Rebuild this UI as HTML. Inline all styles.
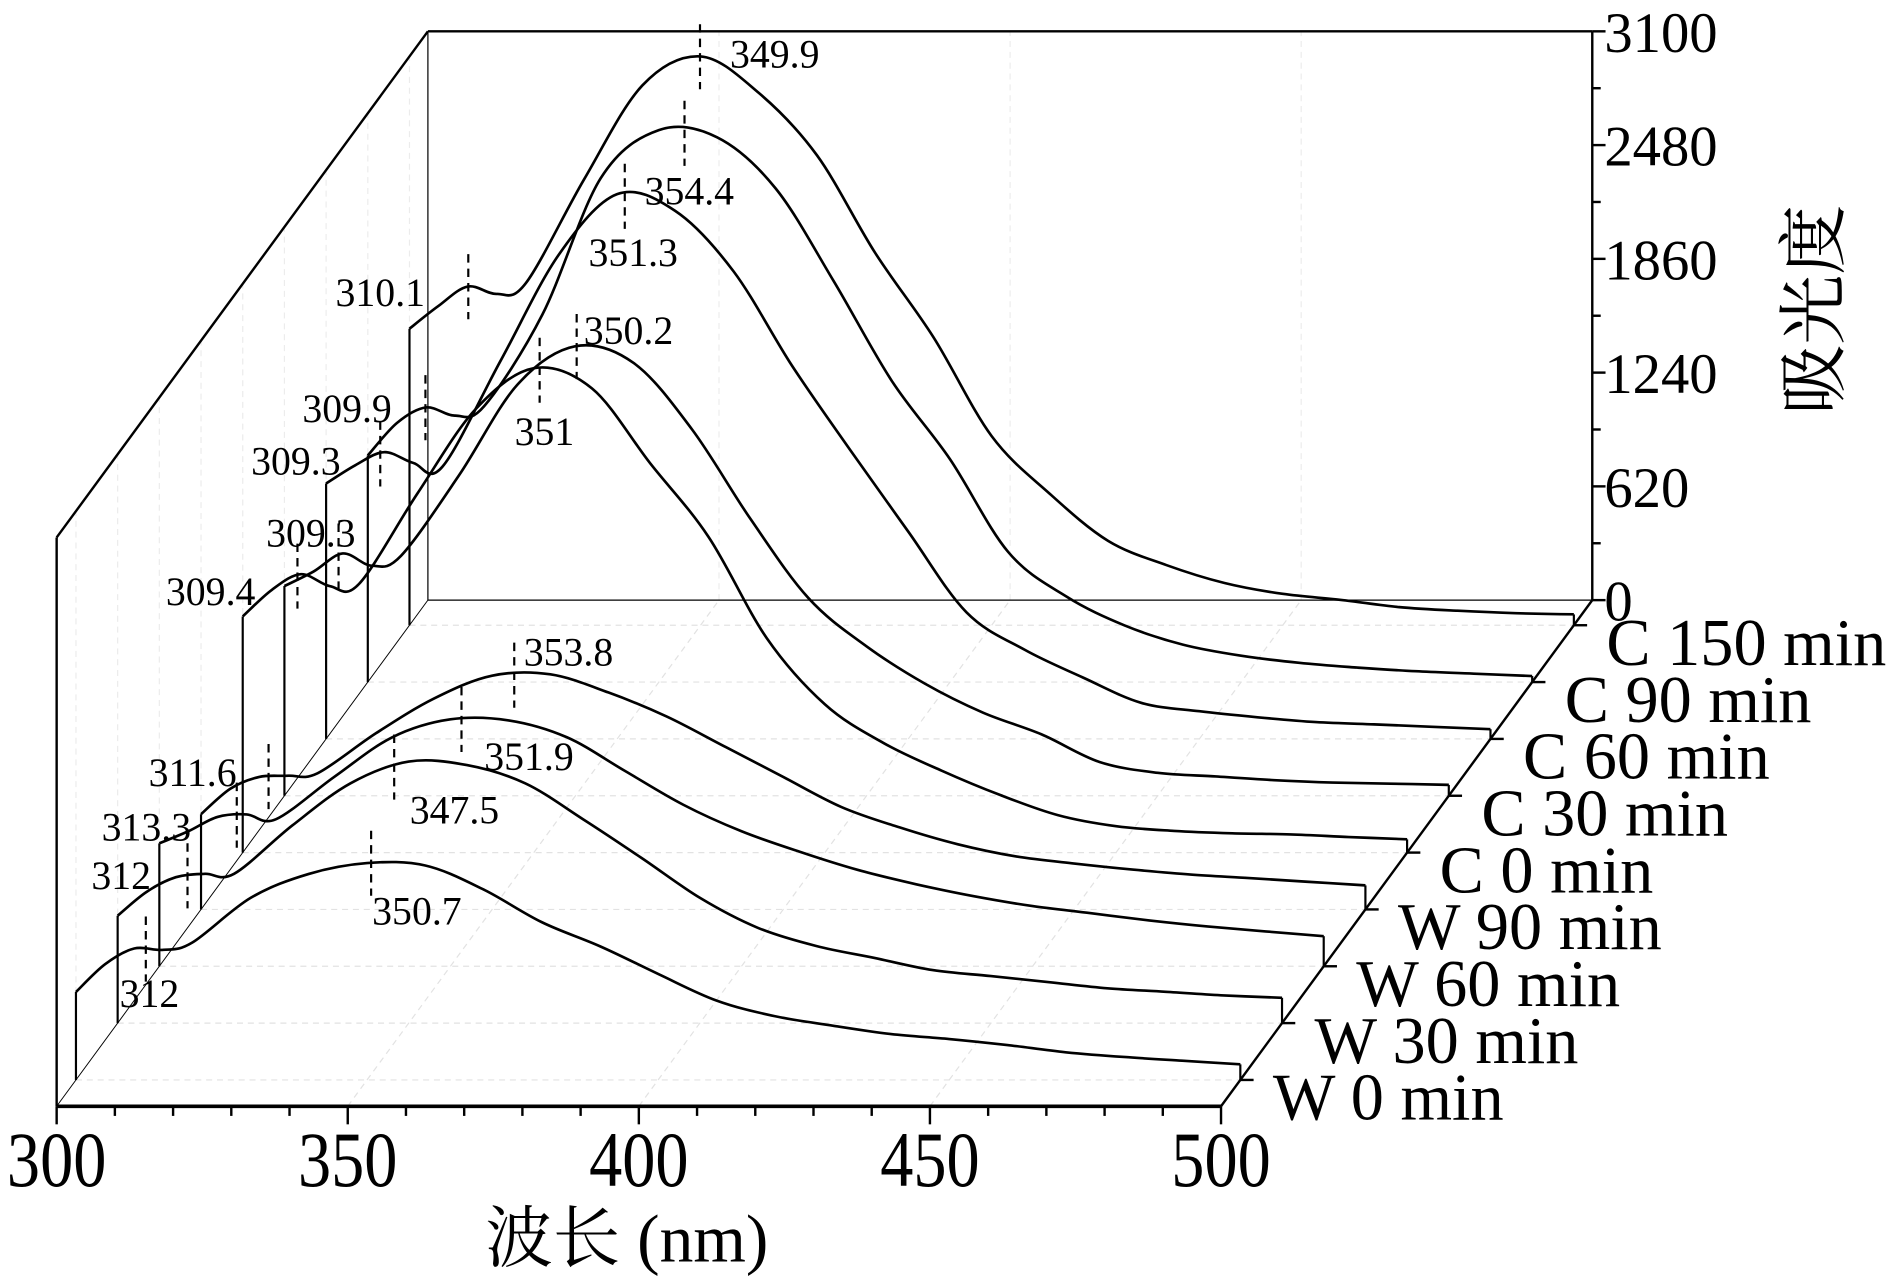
<!DOCTYPE html>
<html><head><meta charset="utf-8"><style>
html,body{margin:0;padding:0;background:#fff;}
svg{display:block;}
text{font-family:"Liberation Serif","Noto Serif CJK SC","Noto Sans CJK SC",serif;fill:#000;}
</style></head><body>
<svg id="chart" xmlns="http://www.w3.org/2000/svg" width="1890" height="1281" viewBox="0 0 1568 1063" preserveAspectRatio="none">
<g id="grid"></g>
<g id="frame"></g>
<g id="series"></g>
<g id="annot"></g>
<g id="labels"></g>
</svg>
<script>
const wavelengths=[300,305,310,315,320,330,340,350,360,370,380,390,400,410,420,430,440,450,460,470,480,490,500];
const seriesNames=['W 0 min','W 30 min','W 60 min','W 90 min','C 0 min','C 30 min','C 60 min','C 90 min','C 150 min'];
const sW0=[479,631,716,709,749,992,1123,1182,1169,1038,860,729,578,433,348,296,250,223,190,151,125,105,85];
const sW30=[585,716,795,814,814,1077,1307,1425,1406,1307,1110,900,683,519,420,355,289,256,223,190,171,151,138];
const sW60=[670,736,814,828,801,1031,1248,1346,1340,1248,1064,880,736,624,525,447,381,328,289,250,217,190,164];
const sW90=[519,657,722,729,742,959,1149,1274,1281,1182,1051,887,722,558,447,355,289,250,217,190,171,151,131];
const sC0=[1287,1432,1517,1452,1465,1957,2417,2640,2529,2121,1721,1169,808,598,447,315,204,144,118,105,99,85,72];
const sC30=[1143,1222,1320,1254,1307,1747,2240,2450,2358,1997,1511,1077,814,611,453,335,184,125,105,85,72,66,59];
const sC60=[1392,1491,1563,1504,1484,2062,2640,2969,2877,2548,2036,1576,1130,690,486,335,197,151,118,92,79,66,53];
const sC90=[1235,1412,1497,1452,1504,2003,2745,3008,2969,2693,2187,1642,1215,709,466,309,204,144,105,79,59,46,33];
const sC150=[1616,1741,1846,1806,1865,2430,2942,3100,2901,2561,2029,1570,1031,716,460,328,230,171,138,99,79,66,59];
const seriesValues=[sW0,sW30,sW60,sW90,sC0,sC30,sC60,sC90,sC150];
const xTicks=[300,350,400,450,500];
const yTicks=[0,620,1240,1860,2480,3100];
const peakSeries=[0,0,1,1,2,2,3,3,4,4,5,5,6,6,7,7,8,8];
const peakWaves=[312,350.7,312,347.5,313.3,351.9,311.6,353.8,309.4,351,309.3,350.2,309.3,351.3,309.9,354.4,310.1,349.9];
const labelOffsets=[[3,46],[38,49],[-55,9],[50,45],[-75,19],[56,40],[-63,6],[45,-10],[-72,22],[4,60],[-23,-10],[43,-4],[-70,15],[7,56],[-65,10],[4,57],[-73,14],[62,7]];

const NS='http://www.w3.org/2000/svg';
const X0=47,X1=1013,FY=918,DX=308,DY=420,YMAX=3100,YPIX=472;
const depthStart=0.052,depthStep=0.1123;
function depth(k){return depthStart+depthStep*k;}
function xS(w,k){return X0+(w-300)/200*(X1-X0)+depth(k)*DX;}
function baseY(k){return FY-depth(k)*DY;}
function yS(a,k){return baseY(k)-a/YMAX*YPIX;}
function mk(tag,attrs,parent){const e=document.createElementNS(NS,tag);for(const k in attrs)e.setAttribute(k,attrs[k]);parent.appendChild(e);return e;}
function line(p,x1,y1,x2,y2,w,c,dash){const l=mk('line',{x1,y1,x2,y2,stroke:c||'#000','stroke-width':w},p);if(dash)l.setAttribute('stroke-dasharray',dash);return l;}
function crPath(pts){let d='M'+pts[0][0].toFixed(1)+','+pts[0][1].toFixed(1);for(let i=0;i<pts.length-1;i++){const p0=pts[i-1]||pts[i],p1=pts[i],p2=pts[i+1],p3=pts[i+2]||p2;const c1=[p1[0]+(p2[0]-p0[0])/6,p1[1]+(p2[1]-p0[1])/6];const c2=[p2[0]-(p3[0]-p1[0])/6,p2[1]-(p3[1]-p1[1])/6];d+='C'+c1[0].toFixed(1)+','+c1[1].toFixed(1)+' '+c2[0].toFixed(1)+','+c2[1].toFixed(1)+' '+p2[0].toFixed(1)+','+p2[1].toFixed(1);}return d;}
function interp(arr,w){for(let i=0;i<wavelengths.length-1;i++){if(w>=wavelengths[i]&&w<=wavelengths[i+1]){const t=(w-wavelengths[i])/(wavelengths[i+1]-wavelengths[i]);return arr[i]+(arr[i+1]-arr[i])*t;}}return arr[arr.length-1];}

const grid=document.getElementById('grid'),frame=document.getElementById('frame'),ser=document.getElementById('series'),ann=document.getElementById('annot'),lab=document.getElementById('labels');
for(let w=350;w<=450;w+=50){
  const gx=X0+(w-300)/200*(X1-X0);
  const g1=line(grid,gx,FY,gx+DX,FY-DY,1,'#e2e2e2','5,4');
  
  
  const g2=line(grid,gx+DX,FY-DY,gx+DX,FY-DY-YPIX,1,'#ececec','5,4');
  
  
}
for(let k=0;k<seriesNames.length;k++){
  const g=line(grid,xS(300,k),baseY(k),xS(500,k),baseY(k),1,'#e2e2e2','5,4');
  
  
  const g2=line(grid,X0+depth(k)*DX,baseY(k),X0+depth(k)*DX,baseY(k)-YPIX,1,'#ececec','5,4');
  
  
}
const BX=X0+DX,BY=FY-DY,TOP=BY-YPIX;
[[X0,FY,X0,FY-YPIX,2],[X0,FY-YPIX,BX,TOP,2],[BX,TOP,BX,BY,1],[BX,TOP,X1+DX,TOP,2],[X1+DX,TOP,X1+DX,BY,2],[BX,BY,X1+DX,BY,1],[X0,FY,BX,BY,0.8],[X0,FY,X1,FY,3],[X1,FY,X1+DX,BY,2]].forEach(a=>{
  const l=line(frame,a[0],a[1],a[2],a[3],a[4]);
  
  
});
for(let w=300;w<=500;w+=10){
  const gx=X0+(w-300)/200*(X1-X0);const major=(w%50===0);
  const t=line(frame,gx,FY,gx,FY+(major?15:8),2);
  
  
}
xTicks.forEach(w=>{
  const gx=X0+(w-300)/200*(X1-X0);
  const t=mk('text',{x:gx,y:984,'font-size':50,'text-anchor':'middle',transform:'translate('+gx+',984) scale(1.1,1.3) translate('+(-gx)+',-984)'},lab);t.textContent=w;
  
  
});
for(let v=0;v<=YMAX;v+=310){
  const yy=BY-v/YMAX*YPIX;const major=(v%620===0);
  const t=line(frame,X1+DX,yy,X1+DX+(major?11:7),yy,2);
  
  
}
yTicks.forEach(v=>{
  const yy=BY-v/YMAX*YPIX;
  const t=mk('text',{x:X1+DX+10,y:yy+17,'font-size':47},lab);t.textContent=v;
  
  
});
seriesValues.forEach((vals,k)=>{
  const pts=wavelengths.map((w,i)=>[xS(w,k),yS(vals[i],k)]);
  const p=mk('path',{d:crPath(pts),fill:'none',stroke:'#000','stroke-width':2.2,'stroke-linejoin':'round'},ser);
  
  
  const v1=line(ser,pts[0][0],pts[0][1],pts[0][0],baseY(k),1.8);
  
  
  const last=pts[pts.length-1];
  const v2=line(ser,last[0],last[1],last[0],baseY(k),1.8);
  
  
  const tk=line(frame,last[0],baseY(k),last[0]+11,baseY(k),2);
  
  
  const t=mk('text',{x:last[0]+27,y:baseY(k)+33,'font-size':55},lab);t.textContent=seriesNames[k];
  
  
});
peakWaves.forEach((w,i)=>{
  const k=peakSeries[i];
  const px=xS(w,k),py=yS(interp(seriesValues[k],w),k);
  const d=line(ann,px,py-27,px,py+27,1.8,'#000','7,5');
  
  
  const t=mk('text',{x:px+labelOffsets[i][0],y:py+labelOffsets[i][1]+2,'font-size':33,'text-anchor':'middle'},ann);
  t.textContent=w;
  
  
});
const xt=mk('text',{x:520,y:1047,'font-size':56,'text-anchor':'middle'},lab);xt.textContent='波长 (nm)';


const yt=mk('text',{x:0,y:0,'font-size':58,'text-anchor':'middle',transform:'translate(1525,257) rotate(-90)'},lab);yt.textContent='吸光度';


</script>
</body></html>
